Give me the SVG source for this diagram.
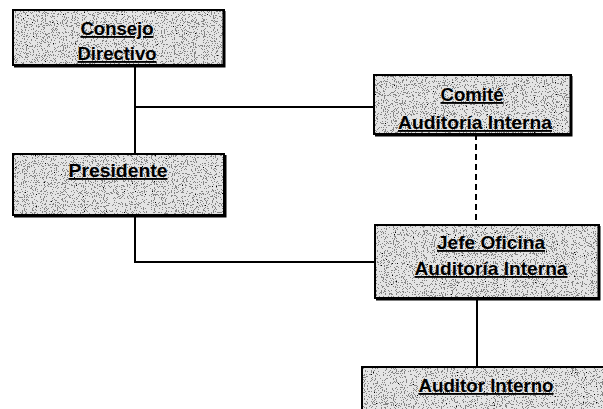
<svg xmlns="http://www.w3.org/2000/svg" width="603" height="409" viewBox="0 0 603 409">
<style>
.bg{fill:#e4e4e4;filter:url(#speckle)}
.bd{fill:none;stroke:#000;stroke-width:2}
.sh{stroke:#000;stroke-width:3;fill:none}
.t{font-family:"Liberation Sans",Arial,sans-serif;font-weight:bold;font-size:18.5px;text-anchor:middle;fill:#000;text-decoration:underline}
.c{stroke:#000;stroke-width:2;fill:none}
.d{stroke:#000;stroke-width:2;fill:none;stroke-dasharray:6 4}
</style>
<defs>
<filter id="speckle" x="0" y="0" width="100%" height="100%">
<feTurbulence type="fractalNoise" baseFrequency="0.9" numOctaves="2" seed="4" result="n"/>
<feColorMatrix in="n" type="matrix" values="0 0 0 0 0 0 0 0 0 0 0 0 0 0 0 1 0 0 0 0" result="a"/>
<feComponentTransfer in="a" result="dots"><feFuncA type="discrete" tableValues="0 0 0 0.7 1"/></feComponentTransfer>
<feComposite in="dots" in2="SourceGraphic" operator="in" result="d2"/>
<feMerge><feMergeNode in="SourceGraphic"/><feMergeNode in="d2"/></feMerge>
</filter>
</defs>
<g id="connectors">
<path class="c" d="M135 65V154"/>
<path class="c" d="M135 107H374"/>
<path class="c" d="M135 215V262H375"/>
<path class="d" d="M476 134V225"/>
<path class="c" d="M477 299V367"/>
</g>
<g id="consejo">
<rect class="bg" x="13" y="10" width="211" height="55"/>
<rect class="bd" x="13" y="10" width="211" height="55"/>
<path class="sh" d="M224 11V66H14"/>
<text class="t" x="117" y="35" textLength="73" lengthAdjust="spacingAndGlyphs">Consejo</text>
<text class="t" x="117" y="60" textLength="79" lengthAdjust="spacingAndGlyphs">Directivo</text>
</g>
<g id="comite">
<rect class="bg" x="374" y="75" width="197" height="59"/>
<rect class="bd" x="374" y="75" width="197" height="59"/>
<path class="sh" d="M571 76V135H375"/>
<text class="t" x="472" y="101" textLength="63" lengthAdjust="spacingAndGlyphs">Comité</text>
<text class="t" x="475" y="129" textLength="154" lengthAdjust="spacingAndGlyphs">Auditoría Interna</text>
</g>
<g id="presidente">
<rect class="bg" x="13" y="154" width="211" height="61"/>
<rect class="bd" x="13" y="154" width="211" height="61"/>
<path class="sh" d="M225 155V216H14"/>
<text class="t" x="118" y="177" textLength="99" lengthAdjust="spacingAndGlyphs">Presidente</text>
</g>
<g id="jefe">
<rect class="bg" x="375" y="225" width="224" height="73"/>
<rect class="bd" x="375" y="225" width="224" height="73"/>
<path class="sh" d="M599 226V299H376"/>
<text class="t" x="491" y="249" textLength="108" lengthAdjust="spacingAndGlyphs">Jefe Oficina</text>
<text class="t" x="491" y="275" textLength="153" lengthAdjust="spacingAndGlyphs">Auditoría Interna</text>
</g>
<g id="auditor">
<rect class="bg" x="362" y="367" width="241" height="42"/>
<path class="bd" d="M362 409V367H603"/>
<text class="t" x="486" y="392" textLength="135" lengthAdjust="spacingAndGlyphs">Auditor Interno</text>
</g>
</svg>
